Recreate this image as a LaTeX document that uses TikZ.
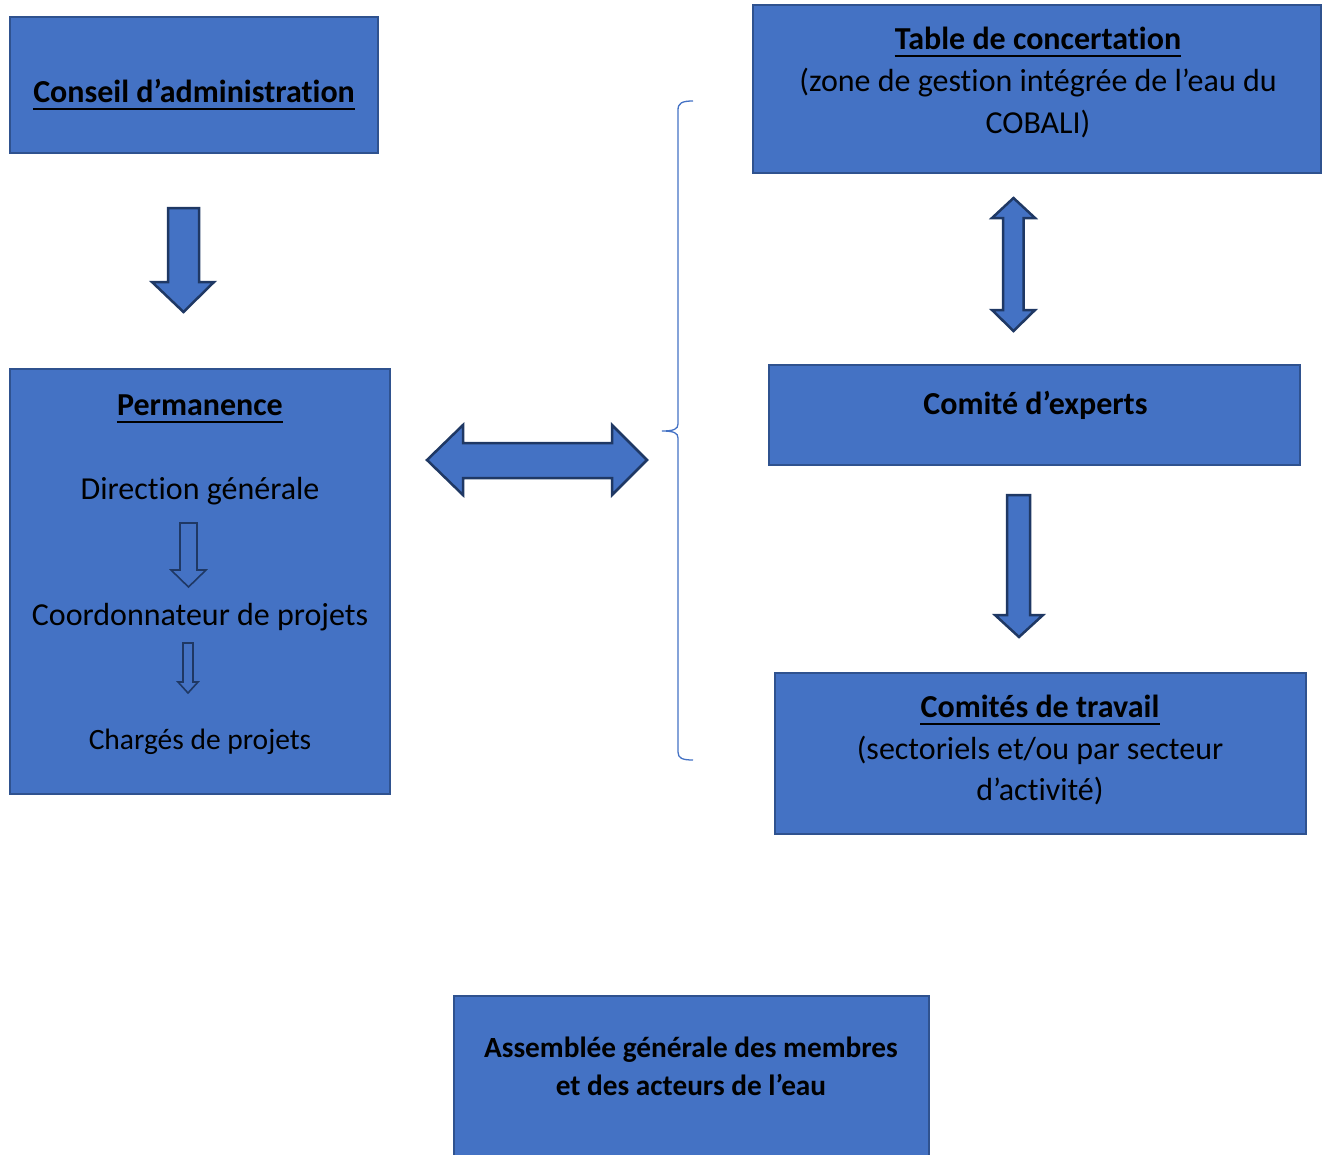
\documentclass[tikz,border=0pt]{standalone}
\usepackage{fontspec}
\setmainfont{Carlito}[Ligatures={NoCommon}]
\definecolor{boxfill}{HTML}{4472C4}
\definecolor{boxline}{HTML}{2F528F}
\definecolor{arrline}{HTML}{1F3864}
\begin{document}
\begin{tikzpicture}[x=1pt,y=-1pt,
  box/.style={draw=boxline, line width=2pt, fill=boxfill, inner sep=0pt},
  blockarrow/.style={draw=arrline, line width=2.5pt, fill=boxfill, line join=miter},
  thinarrow/.style={draw=arrline, line width=1.6pt, line join=miter},
  lbl/.style={inner sep=0pt, anchor=base, font=\fontsize{32}{38}\selectfont},
  lblb/.style={inner sep=0pt, anchor=base, font=\fontsize{32}{38}\selectfont\bfseries},
  lbls/.style={inner sep=0pt, anchor=base, font=\fontsize{29.5}{34}\selectfont},
  lblab/.style={inner sep=0pt, anchor=base, font=\fontsize{29.3}{34}\selectfont\bfseries},
  uline/.style={line width=2.2pt, black},
  bracestyle/.style={draw=boxfill, line width=1.3pt}]
\useasboundingbox (0,0) rectangle (1327,1154);
\clip (0,0) rectangle (1327,1154);

% boxes
\node[box, minimum width=368pt, minimum height=136pt] (ca) at (194,85) {};
\node[box, minimum width=380pt, minimum height=425pt] (perm) at (200,581.5) {};
\node[box, minimum width=568pt, minimum height=168pt] (table) at (1037,89) {};
\node[box, minimum width=531pt, minimum height=100pt] (experts) at (1034.5,415) {};
\node[box, minimum width=531pt, minimum height=161pt] (travail) at (1040.5,753.5) {};
\node[box, minimum width=475pt, minimum height=174pt] (ag) at (691.5,1083) {};

% texts
\node[lblb] (tca) at (194,102.5) {Conseil d’administration};
\draw[uline] ([yshift=-6.5pt]tca.base west) -- ([yshift=-6.5pt]tca.base east);

\node[lblb] (tperm) at (200,415.5) {Permanence};
\draw[uline] ([yshift=-6.5pt]tperm.base west) -- ([yshift=-6.5pt]tperm.base east);
\node[lbl] (tdir) at (200,499.5) {Direction générale};
\node[lbl] (tcoord) at (200,625.5) {Coordonnateur de projets};
\node[lbls] (tcharg) at (200,749.5) {Chargés de projets};

\node[lblb] (ttable) at (1038,49.5) {Table de concertation};
\draw[uline] ([yshift=-6.5pt]ttable.base west) -- ([yshift=-6.5pt]ttable.base east);
\node[lbl] (ttable2) at (1038,91.5) {(zone de gestion intégrée de l’eau du};
\node[lbl] (ttable3) at (1038,133.5) {COBALI)};

\node[lblb] (texp) at (1035.5,414.5) {Comité d’experts};

\node[lblb] (ttrav) at (1040,717.5) {Comités de travail};
\draw[uline] ([yshift=-6.5pt]ttrav.base west) -- ([yshift=-6.5pt]ttrav.base east);
\node[lbl] (ttrav2) at (1040,759.5) {(sectoriels et/ou par secteur};
\node[lbl] (ttrav3) at (1040,800.5) {d’activité)};

\node[lblab] (tag1) at (691,1057.5) {Assemblée générale des membres};
\node[lblab] (tag2) at (691,1095.5) {et des acteurs de l’eau};

% block arrows
\draw[blockarrow] (168,208) -- (199,208) -- (199,282) -- (214,282) -- (183.5,312) -- (152,282) -- (168,282) -- cycle;
\draw[blockarrow] (427,460) -- (463,425) -- (463,443) -- (612,443) -- (612,425) -- (647,460) -- (612,495) -- (612,478) -- (463,478) -- (463,495) -- cycle;
\draw[blockarrow] (1013.5,198) -- (1035,218) -- (1023.5,218) -- (1023.5,310) -- (1035,310) -- (1013.5,331) -- (992,310) -- (1003,310) -- (1003,218) -- (992,218) -- cycle;
\draw[blockarrow] (1007,495) -- (1030,495) -- (1030,615) -- (1043,615) -- (1019,637) -- (995,615) -- (1007,615) -- cycle;

% small hollow arrows
\draw[thinarrow] (180,523) -- (197,523) -- (197,570) -- (206,570) -- (188.5,587) -- (171,570) -- (180,570) -- cycle;
\draw[thinarrow] (183,643) -- (193,643) -- (193,682) -- (198,682) -- (188,693) -- (178,682) -- (183,682) -- cycle;

% brace
\draw[bracestyle] (693,101) .. controls (682,101) and (678,103) .. (678,110) -- (678,424) .. controls (678,429) and (674,431) .. (662,431) .. controls (674,431) and (678,433) .. (678,438) -- (678,752) .. controls (678,758) and (682,760) .. (693,760);
\end{tikzpicture}
\end{document}
